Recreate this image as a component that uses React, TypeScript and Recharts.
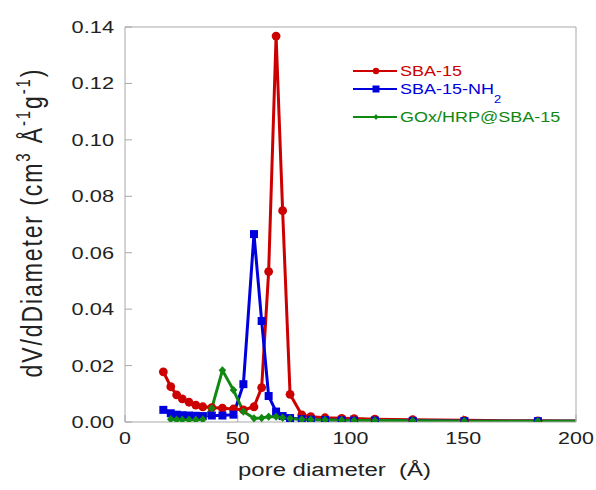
import React from 'react';
import { Line, LineChart, XAxis, YAxis } from 'recharts';

// pore diameters (Å) shared by the three BJH curves
const diameters = [17.0, 20.3, 22.9, 25.4, 28.4, 31.4, 34.5, 38.5, 43.2, 48.1, 52.5, 57.2, 60.6, 63.7, 67.0, 69.9, 73.2, 78.4, 82.4, 88.7, 96.1, 101.6, 110.8, 127.6, 150.5, 183.1, 230];

const sba15 = [0.0178, 0.0125, 0.0096, 0.0082, 0.007, 0.006, 0.0054, 0.0051, 0.0049, 0.0046, 0.0043, 0.0054, 0.0122, 0.0533, 0.1368, 0.0749, 0.0098, 0.0025, 0.0019, 0.0015, 0.0013, 0.0012, 0.001, 0.0008, 0.0006, 0.0004, 0.0003];
const sba15NH2 = [0.0043, 0.0031, 0.0026, 0.0024, 0.0023, 0.0022, 0.0021, 0.0023, 0.0023, 0.0026, 0.0134, 0.0666, 0.0358, 0.0092, 0.0037, 0.0021, 0.0014, 0.001, 0.0008, 0.0007, 0.0006, 0.0005, 0.0005, 0.0004, 0.0003, 0.0003, 0.0002];
// GOx/HRP curve starts at the second diameter
const goxHrp = [null, 0.001, 0.0008, 0.0008, 0.0008, 0.0008, 0.0009, 0.0049, 0.0183, 0.0113, 0.0037, 0.0013, 0.0014, 0.0019, 0.0019, 0.0015, 0.0012, 0.0009, 0.0008, 0.0007, 0.0006, 0.0005, 0.0005, 0.0004, 0.0003, 0.0003, 0.0002];

const xTicks = [0, 50, 100, 150, 200];
const yTicks = [0, 0.02, 0.04, 0.06, 0.08, 0.1, 0.12, 0.14];

const RED = '#cc0000';
const BLUE = '#0000dd';
const GREEN = '#118811';
const FRAME = '#a8a8a8';
const FONT = 'Liberation Sans, Arial, sans-serif';

const toSeries = (values: (number | null)[]) =>
  diameters
    .map((d, i) => ({ d, v: values[i] }))
    .filter((p) => p.v !== null);

const redData = toSeries(sba15);
const blueData = toSeries(sba15NH2);
const greenData = toSeries(goxHrp);

const XTick = ({ x, y, payload }: any) => (
  <g transform={`translate(${x},${y})`}>
    <text transform="scale(1.3,1)" textAnchor="middle" dy="0.71em" fontSize={16.5} fill="#222" fontFamily={FONT}>
      {payload.value}
    </text>
  </g>
);

const YTick = ({ x, y, payload }: any) => (
  <g transform={`translate(${x},${y})`}>
    <text transform="scale(1.32,1)" textAnchor="end" dy="0.36em" fontSize={16.5} fill="#222" fontFamily={FONT}>
      {payload.value.toFixed(2)}
    </text>
  </g>
);

const RedDot = ({ cx, cy, index }: any) => <circle key={index} cx={cx} cy={cy} r={4.4} fill={RED} />;
const BlueDot = ({ cx, cy, index }: any) => <rect key={index} x={cx - 4} y={cy - 4} width={8} height={8} fill={BLUE} />;
const GreenDot = ({ cx, cy, index }: any) => (
  <path key={index} d={`M${cx},${cy - 4.2}L${cx + 3.8},${cy}L${cx},${cy + 4.2}L${cx - 3.8},${cy}Z`} fill={GREEN} />
);

const XTitle = ({ viewBox }: any) => (
  <g transform={`translate(${viewBox.x + viewBox.width / 2 - 16},${viewBox.y + 54})`}>
    <text transform="scale(1.26,1)" textAnchor="middle" fontSize={19} fill="#222" fontFamily={FONT} xmlSpace="preserve">
      pore diameter  (Å)
    </text>
  </g>
);

const YTitle = ({ viewBox }: any) => (
  <g transform={`translate(42,${viewBox.y + viewBox.height / 2 - 2}) scale(1.3,1) rotate(-90)`}>
    <text textAnchor="middle" fontSize={23} letterSpacing={1.9} fill="#222" fontFamily={FONT}>
      dV/dDiameter (cm
      <tspan fontSize={15} dy={-9}>3</tspan>
      <tspan dy={9}> Å</tspan>
      <tspan fontSize={15} dy={-9}>-1</tspan>
      <tspan dy={9}>g</tspan>
      <tspan fontSize={15} dy={-9}>-1</tspan>
      <tspan dy={9}>)</tspan>
    </text>
  </g>
);

const legendItems = [
  { name: 'SBA-15', color: RED, y: 16 },
  { name: 'SBA-15-NH', sub: '2', color: BLUE, y: 34 },
  { name: 'GOx/HRP@SBA-15', color: GREEN, y: 62 },
];

const LegendBox = () => (
  <svg width={240} height={80} style={{ position: 'absolute', left: 345, top: 55 }}>
    {legendItems.map((item, i) => (
      <g key={item.name}>
        <line x1={8} x2={52} y1={item.y} y2={item.y} stroke={item.color} strokeWidth={2.2} />
        {i === 0 && <circle cx={31} cy={item.y} r={3.2} fill={item.color} />}
        {i === 1 && <rect x={27.5} y={item.y - 3.5} width={7} height={7} fill={item.color} />}
        {i === 2 && <path d={`M31,${item.y - 3}L33.5,${item.y}L31,${item.y + 3}L28.5,${item.y}Z`} fill={item.color} />}
        <g transform={`translate(55,${item.y + 5})`}>
          <text transform="scale(1.285,1)" fontSize={14} fill={item.color} fontFamily={FONT}>
            {item.name}
            {item.sub && (
              <tspan fontSize={10} dy={9}>
                {item.sub}
              </tspan>
            )}
          </text>
        </g>
      </g>
    ))}
  </svg>
);

export default function App() {
  return (
    <div style={{ position: 'absolute', left: 0, top: 0, width: 596, height: 490, background: '#fff' }}>
      <LineChart width={596} height={490} margin={{ top: 26, right: 19, bottom: 0, left: 0 }}>
        <XAxis
          dataKey="d"
          type="number"
          domain={[0, 200]}
          ticks={xTicks}
          allowDataOverflow
          height={68}
          tickSize={-7}
          tickMargin={17}
          tick={<XTick />}
          stroke={FRAME}
          label={{ content: <XTitle /> }}
        />
        <XAxis
          xAxisId="top"
          dataKey="d"
          orientation="top"
          type="number"
          domain={[0, 200]}
          ticks={xTicks}
          allowDataOverflow
          height={1}
          tickSize={-7}
          tick={false}
          stroke={FRAME}
        />
        <YAxis
          type="number"
          domain={[0, 0.14]}
          ticks={yTicks}
          allowDataOverflow
          width={125}
          tickSize={-7}
          tickMargin={18}
          tick={<YTick />}
          stroke={FRAME}
          label={{ content: <YTitle /> }}
        />
        <YAxis
          yAxisId="right"
          orientation="right"
          type="number"
          domain={[0, 0.14]}
          ticks={yTicks}
          allowDataOverflow
          width={1}
          tickSize={-7}
          tick={false}
          stroke={FRAME}
        />
        <Line data={redData} dataKey="v" name="SBA-15" stroke={RED} strokeWidth={3} dot={<RedDot />} activeDot={false} isAnimationActive={false} />
        <Line data={blueData} dataKey="v" name="SBA-15-NH2" stroke={BLUE} strokeWidth={3} dot={<BlueDot />} activeDot={false} isAnimationActive={false} />
        {/* same domains on the mirrored axes, so the green curve lands in the same place */}
        <Line
          data={greenData}
          xAxisId="top"
          yAxisId="right"
          dataKey="v"
          name="GOx/HRP@SBA-15"
          stroke={GREEN}
          strokeWidth={3}
          dot={<GreenDot />}
          activeDot={false}
          isAnimationActive={false}
        />
      </LineChart>
      <LegendBox />
    </div>
  );
}
